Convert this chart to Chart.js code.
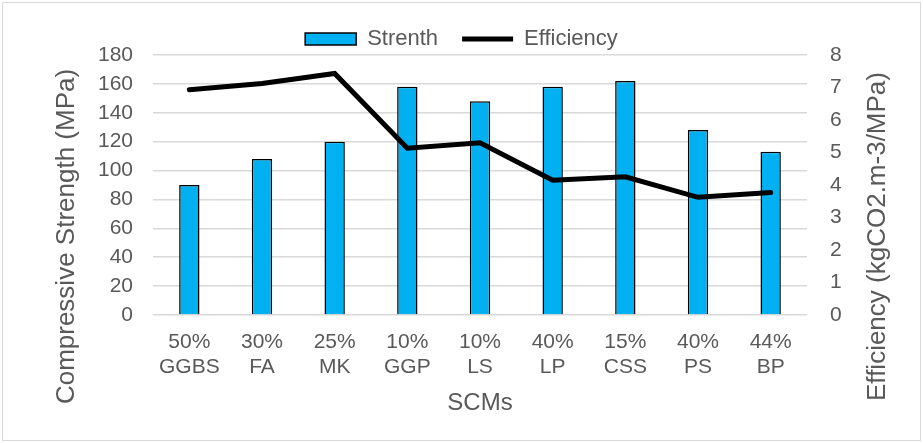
<!DOCTYPE html>
<html>
<head>
<meta charset="utf-8">
<script src="https://cdn.jsdelivr.net/npm/chart.js@4/dist/chart.umd.min.js"></script>
<style>
  html, body { margin: 0; padding: 0; background: #fff; }
  #wrap { position: relative; width: 923px; height: 443px; }
</style>
</head>
<body>
<div id="wrap"><canvas id="c" width="923" height="443"></canvas></div>
<script>
// Supplementary cementitious materials: replacement level + material
const categories = [
  ['50%', 'GGBS'], ['30%', 'FA'], ['25%', 'MK'], ['10%', 'GGP'], ['10%', 'LS'],
  ['40%', 'LP'], ['15%', 'CSS'], ['40%', 'PS'], ['44%', 'BP']
];
// Compressive strength, MPa (left axis)
const strength = [90, 108, 120, 158, 148, 158, 162, 128, 113];
// Efficiency, kgCO2.m-3/MPa (right axis)
const efficiency = [6.93, 7.12, 7.43, 5.13, 5.30, 4.15, 4.25, 3.62, 3.77];

const leftTicks = { min: 0, max: 180, step: 20 };
const rightTicks = { min: 0, max: 8, step: 1 };

const leftTitle = 'Compressive Strength (MPa)';
const rightTitle = 'Efficiency (kgCO2.m-3/MPa)';

const textGrey = '#595959';
const font = 'Liberation Sans, Arial, sans-serif';

// Thin light frame around the whole figure
const framePlugin = {
  id: 'frame',
  beforeDraw(chart) {
    const ctx = chart.ctx;
    ctx.save();
    ctx.fillStyle = '#fff';
    ctx.fillRect(0, 0, chart.width, chart.height);
    ctx.strokeStyle = '#d9d9d9';
    ctx.lineWidth = 1;
    ctx.strokeRect(2.5, 2.5, chart.width - 5, chart.height - 5);
    ctx.restore();
  }
};

// Vertical axis titles, centred on the plot plus category-label band
const axisTitlePlugin = {
  id: 'axisTitles',
  afterDraw(chart) {
    const ctx = chart.ctx;
    const area = chart.chartArea;
    const cy = (area.top + chart.scales.x.bottom) / 2;
    ctx.save();
    ctx.fillStyle = textGrey;
    ctx.font = '26px ' + font;
    ctx.textAlign = 'center';
    ctx.textBaseline = 'middle';
    ctx.translate(chart.scales.y.left + 67, cy);
    ctx.rotate(-Math.PI / 2);
    ctx.fillText(leftTitle, 0, 0);
    ctx.restore();
    ctx.save();
    ctx.fillStyle = textGrey;
    ctx.font = '26px ' + font;
    ctx.textAlign = 'center';
    ctx.textBaseline = 'middle';
    ctx.translate(chart.scales.y2.left + 71, cy);
    ctx.rotate(-Math.PI / 2);
    ctx.fillText(rightTitle, 0, 0);
    ctx.restore();
  }
};

new Chart(document.getElementById('c'), {
  data: {
    labels: categories,
    datasets: [
      {
        type: 'line',
        label: 'Efficiency',
        data: efficiency,
        yAxisID: 'y2',
        borderColor: '#000',
        backgroundColor: '#000',
        borderWidth: 5,
        borderCapStyle: 'round',
        borderJoinStyle: 'miter',
        tension: 0,
        pointRadius: 0,
        pointHoverRadius: 0,
        pointStyle: 'line',
        order: 0
      },
      {
        type: 'bar',
        label: 'Strenth',
        data: strength,
        yAxisID: 'y',
        backgroundColor: '#00B0F0',
        borderColor: '#000',
        borderWidth: 1.5,
        barPercentage: 0.28,
        categoryPercentage: 1,
        pointStyle: 'rect',
        order: 1
      }
    ]
  },
  options: {
    responsive: false,
    animation: false,
    events: [],
    layout: { padding: { top: 4, bottom: 25, left: 0, right: 0 } },
    plugins: {
      tooltip: { enabled: false },
      legend: {
        display: true,
        position: 'top',
        reverse: true,
        maxHeight: 51,
        labels: {
          usePointStyle: true,
          pointStyleWidth: 51,
          boxHeight: 12,
          padding: 24,
          color: textGrey,
          font: { family: font, size: 22 }
        }
      }
    },
    scales: {
      x: {
        grid: { display: false, drawTicks: false },
        border: { display: false },
        ticks: {
          color: textGrey,
          font: { family: font, size: 21, lineHeight: 1.19 },
          padding: 15,
          maxRotation: 0,
          autoSkip: false
        },
        title: {
          display: true,
          text: 'SCMs',
          color: textGrey,
          font: { family: font, size: 24 },
          padding: { top: 0, bottom: 0 }
        },
        afterFit(scale) { scale.height = 103; }
      },
      y: {
        position: 'left',
        min: leftTicks.min,
        max: leftTicks.max,
        grid: { color: '#d9d9d9', lineWidth: 1.5, drawTicks: false },
        border: { display: false },
        ticks: {
          stepSize: leftTicks.step,
          color: textGrey,
          font: { family: font, size: 21 },
          padding: 20
        },
        afterFit(scale) { scale.width = 153; }
      },
      y2: {
        position: 'right',
        min: rightTicks.min,
        max: rightTicks.max,
        grid: { display: false, drawTicks: false },
        border: { display: false },
        ticks: {
          stepSize: rightTicks.step,
          color: textGrey,
          font: { family: font, size: 21 },
          padding: 23
        },
        afterFit(scale) { scale.width = 116; }
      }
    }
  },
  plugins: [framePlugin, axisTitlePlugin]
});
</script>
</body>
</html>
